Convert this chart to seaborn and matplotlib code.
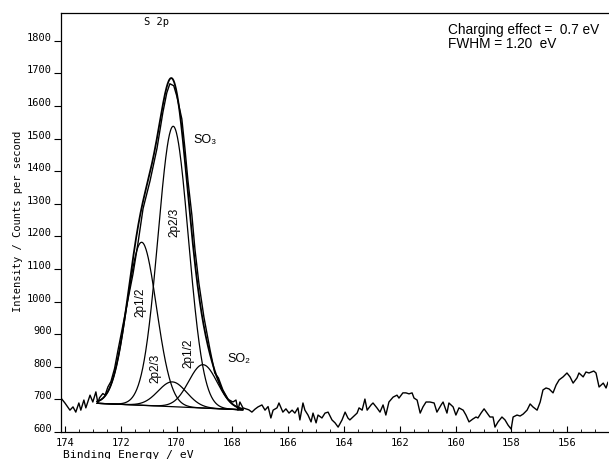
import numpy as np
import pandas as pd
import matplotlib
matplotlib.use("Agg")
import matplotlib.pyplot as plt
import seaborn as sns

# ---------------- data ----------------
raw_energy = [
    174.14, 174.00, 173.82, 173.71, 173.61, 173.50, 173.43, 173.32, 173.25, 173.10,
    173.00, 172.89, 172.82, 172.76, 172.64, 172.56, 172.46, 172.35, 172.22, 172.10,
    171.95, 171.78, 171.56, 171.38, 171.20, 170.95, 170.70, 170.49, 170.35, 170.24,
    170.10, 169.99, 169.81, 169.70, 169.59, 169.45, 169.34, 169.20, 169.02, 168.80,
    168.63, 168.50, 168.34, 168.15, 167.98, 167.87, 167.80, 167.73, 167.62, 167.41,
    167.30, 167.19, 167.08, 166.94, 166.83, 166.72, 166.62, 166.54, 166.40, 166.33,
    166.19, 166.08, 165.97, 165.86, 165.76, 165.65, 165.58, 165.47, 165.40, 165.29,
    165.18, 165.11, 165.00, 164.93, 164.79, 164.68, 164.57, 164.43, 164.32, 164.21,
    164.07, 163.96, 163.86, 163.79, 163.68, 163.53, 163.46, 163.35, 163.25, 163.17,
    163.03, 162.96, 162.82, 162.71, 162.60, 162.50, 162.39, 162.24, 162.10, 162.03,
    161.89, 161.78, 161.67, 161.56, 161.49, 161.38, 161.27, 161.17, 161.06, 160.92,
    160.77, 160.67, 160.52, 160.45, 160.31, 160.24, 160.09, 159.99, 159.88, 159.73,
    159.63, 159.52, 159.38, 159.27, 159.20, 159.09, 158.98, 158.87, 158.77, 158.66,
    158.59, 158.48, 158.34, 158.23, 158.12, 158.01, 157.94, 157.80, 157.69, 157.58,
    157.44, 157.33, 157.23, 157.08, 156.97, 156.87, 156.76, 156.65, 156.51, 156.40,
    156.29, 156.15, 156.01, 155.90, 155.79, 155.65, 155.58, 155.43, 155.33, 155.22,
    155.05, 154.97, 154.86, 154.71, 154.61, 154.54,
]
raw_counts = [
    704, 689, 667, 677, 661, 689, 667, 698, 674, 713,
    692, 723, 689, 705, 718, 713, 738, 755, 795, 850,
    915, 990, 1085, 1180, 1285, 1370, 1470, 1580, 1640, 1668,
    1662, 1630, 1560, 1470, 1370, 1265, 1160, 1057, 953, 852,
    781, 766, 729, 700, 692, 698, 667, 692, 674, 668,
    661, 670, 677, 683, 667, 678, 643, 667, 674, 689,
    661, 671, 658, 667, 658, 674, 637, 689, 667, 652,
    631, 658, 628, 652, 643, 658, 661, 637, 628, 615,
    637, 661, 643, 637, 646, 658, 674, 667, 701, 667,
    683, 689, 674, 661, 683, 652, 692, 707, 713, 704,
    720, 720, 717, 720, 704, 698, 658, 677, 692, 692,
    689, 661, 683, 692, 658, 689, 677, 652, 674, 667,
    652, 631, 640, 646, 643, 658, 671, 658, 646, 646,
    615, 631, 646, 637, 621, 609, 646, 652, 649, 655,
    667, 686, 677, 667, 692, 729, 735, 732, 720, 744,
    760, 769, 781, 769, 750, 766, 781, 769, 784, 781,
    787, 781, 738, 750, 735, 753,
]

baseline_energy = [172.85, 167.62]
baseline_counts = [688, 668]

comp_center = [170.12, 171.25, 170.15, 169.05]
comp_height = [860, 500, 76, 133]
comp_fwhm = [1.28, 1.25, 1.20, 1.20]

x_ticks = [174, 172, 170, 168, 166, 164, 162, 160, 158, 156]
y_ticks = [600, 700, 800, 900, 1000, 1100, 1200, 1300, 1400, 1500, 1600, 1700, 1800]

# ---------------- style ----------------
sns.set_style("ticks")
plt.rcParams["font.family"] = ["DejaVu Sans Mono", "DejaVu Sans"]
plt.rcParams["text.color"] = "black"
plt.rcParams["xtick.color"] = "black"
plt.rcParams["ytick.color"] = "black"
plt.rcParams["axes.labelcolor"] = "black"

W, H = 609, 459
fig = plt.figure(figsize=(W / 100, H / 100), dpi=100)
ax = fig.add_axes([61 / W, (H - 432) / H, (608 - 61) / W, (432 - 13) / H])

# fitted model on the baseline range
e = np.linspace(baseline_energy[0], baseline_energy[1], 400)
base = np.interp(e, baseline_energy[::-1], baseline_counts[::-1])
comps = []
for c, h, w in zip(comp_center, comp_height, comp_fwhm):
    comps.append(h * np.exp(-4 * np.log(2) * (e - c) ** 2 / w ** 2))
envelope = base + np.sum(comps, axis=0)

# raw spectrum
sns.lineplot(x=raw_energy, y=raw_counts, ax=ax, color="black", lw=1.0,
             estimator=None, sort=False)
# envelope
sns.lineplot(x=e, y=envelope, ax=ax, color="black", lw=1.3,
             estimator=None, sort=False)
# components
for comp in comps:
    sns.lineplot(x=e, y=base + comp, ax=ax, color="black", lw=0.9,
                 estimator=None, sort=False)
# baseline
sns.lineplot(x=baseline_energy, y=baseline_counts, ax=ax, color="black",
             lw=0.9, estimator=None, sort=False)

ax.set_xlim(174.14, 154.54)
ax.set_ylim(600, 1885)
ax.set_xticks(x_ticks)
ax.set_xticklabels([str(t) for t in x_ticks])
ax.set_xticks(np.arange(174, 154.5, -0.5), minor=True)
ax.set_yticks(y_ticks)
ax.set_yticklabels([str(t) for t in y_ticks])
for lab in ax.get_yticklabels():
    lab.set_verticalalignment("baseline")
ax.tick_params(axis="x", direction="in", length=4, width=0.8, labelsize=7.5, pad=4,
               colors="black")
ax.tick_params(axis="x", which="minor", direction="in", length=2, width=0.6,
               colors="black")
ax.tick_params(axis="y", direction="out", length=5, width=0.8, labelsize=7.5, pad=1.5,
               colors="black")
ax.set_xlabel("")
ax.set_ylabel("")
for side in ["left", "bottom", "top"]:
    ax.spines[side].set_linewidth(0.9)
    ax.spines[side].set_color("black")
ax.spines["right"].set_visible(False)

# axis titles
fig.text(63 / W, 0.002, "Binding Energy / eV", fontsize=8.2, ha="left",
         va="baseline", family=["DejaVu Sans Mono"], color="black")
fig.text(18 / W, 1 - 221 / H, "Intensity / Counts per second", fontsize=7.5,
         rotation=90, ha="center", va="center", family=["DejaVu Sans Mono"],
         color="black")

# annotations
def px(xp, yp):
    return xp / W, 1 - yp / H

sans = ["Liberation Sans", "DejaVu Sans"]
fig.text(*px(157, 22), "S 2p", fontsize=7.5, ha="center", va="center",
         family=["DejaVu Sans Mono"])
fig.text(*px(448, 30), "Charging effect =  0.7 eV", fontsize=9.8, ha="left",
         va="center", family=sans)
fig.text(*px(448, 44), "FWHM = 1.20  eV", fontsize=9.8, ha="left",
         va="center", family=sans)
fig.text(*px(193, 140), "SO\u2083", fontsize=9, ha="left", va="center", family=sans)
fig.text(*px(227, 359), "SO\u2082", fontsize=9, ha="left", va="center", family=sans)
fig.text(*px(174, 222), "2p2/3", fontsize=8.5, rotation=90, ha="center",
         va="center", family=sans)
fig.text(*px(140, 302), "2p1/2", fontsize=8.5, rotation=90, ha="center",
         va="center", family=sans)
fig.text(*px(155, 368), "2p2/3", fontsize=8.5, rotation=90, ha="center",
         va="center", family=sans)
fig.text(*px(188, 353), "2p1/2", fontsize=8.5, rotation=90, ha="center",
         va="center", family=sans)

fig.savefig("out.png", dpi=100)
